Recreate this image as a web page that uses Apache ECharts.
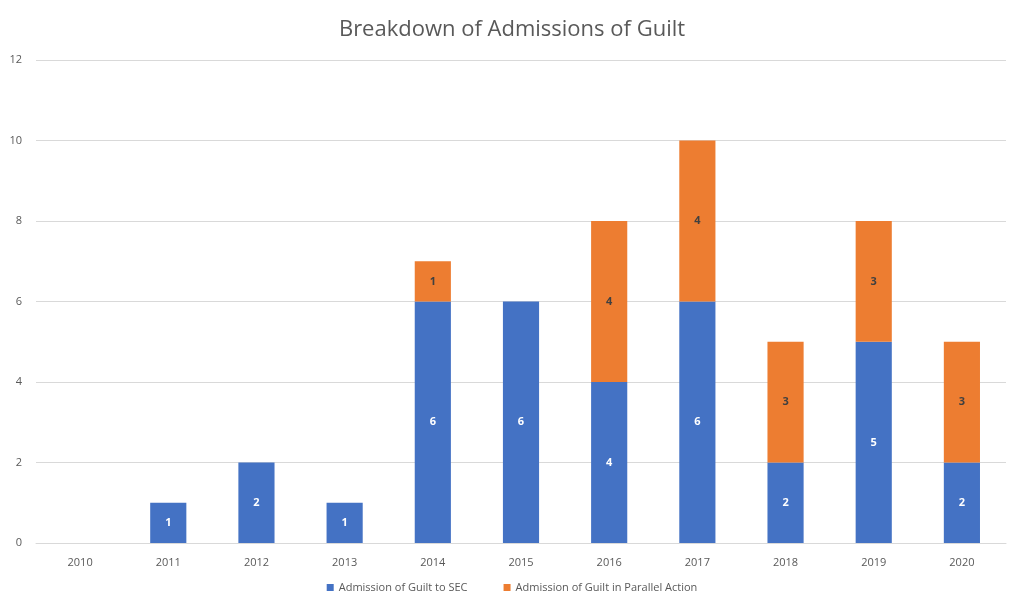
<!DOCTYPE html>
<html>
<head>
<meta charset="utf-8">
<script src="https://cdn.jsdelivr.net/npm/echarts@6/dist/echarts.min.js"></script>
<style>html,body{margin:0;padding:0;background:#fff}#c{width:1024px;height:608px}</style>
</head>
<body>
<div id="c"></div>
<script>
const categories = ['2010','2011','2012','2013','2014','2015','2016','2017','2018','2019','2020'];
const secValues = [0,1,2,1,6,6,4,6,2,5,2];
const parallelValues = [0,0,0,0,1,0,4,4,3,3,3];
const seriesNames = ['Admission of Guilt to SEC','Admission of Guilt in Parallel Action'];
const titleText = 'Breakdown of Admissions of Guilt';

const font = '"Open Sans", "Liberation Sans", sans-serif';
const chart = echarts.init(document.getElementById('c'));
const lbl = (color) => ({
  show: true, position: 'inside', color: color, fontSize: 11, fontWeight: 'bold', fontFamily: font,
  formatter: p => p.value ? p.value : ''
});
chart.setOption({
  animation: false,
  title: { text: titleText, left: 'center', top: 14, textStyle: { fontFamily: font, fontSize: 22, fontWeight: 'normal', color: '#595959' } },
  legend: {
    bottom: 10, left: 'center', itemWidth: 7, itemHeight: 7, itemGap: 36, icon: 'rect',
    textStyle: { fontFamily: font, fontSize: 11, color: '#595959' }, data: seriesNames
  },
  grid: { left: 36, right: 18, top: 60, bottom: 65 },
  xAxis: {
    type: 'category', data: categories,
    axisLine: { lineStyle: { color: '#d9d9d9' } }, axisTick: { show: false },
    axisLabel: { color: '#595959', fontFamily: font, fontSize: 11, margin: 14 }
  },
  yAxis: {
    type: 'value', min: 0, max: 12, interval: 2,
    axisLine: { show: false }, axisTick: { show: false },
    splitLine: { lineStyle: { color: '#d9d9d9' } },
    axisLabel: { color: '#595959', fontFamily: font, fontSize: 11, margin: 14 }
  },
  series: [
    { name: seriesNames[0], type: 'bar', stack: 's', data: secValues, barWidth: '41%', itemStyle: { color: '#4472c4' }, label: lbl('#ffffff') },
    { name: seriesNames[1], type: 'bar', stack: 's', data: parallelValues, barWidth: '41%', itemStyle: { color: '#ed7d31' }, label: lbl('#404040') }
  ]
});
</script>
</body>
</html>
